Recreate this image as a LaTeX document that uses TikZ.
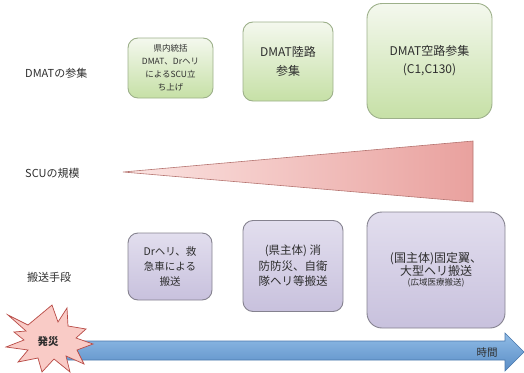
\documentclass[tikz,border=0pt]{standalone}
\usepackage{fontspec}
\setmainfont{Noto Sans CJK JP}
\definecolor{gtop}{HTML}{F4F8EE}
\definecolor{gbot}{HTML}{C6E0A6}
\definecolor{gdraw}{HTML}{9DB08A}
\definecolor{ptop}{HTML}{E2DEEE}
\definecolor{pbot}{HTML}{C8C1DD}
\definecolor{pdraw}{HTML}{85828F}
\definecolor{tleft}{HTML}{FBE4E2}
\definecolor{tright}{HTML}{E9A19E}
\definecolor{tdraw}{HTML}{B57470}
\definecolor{atop}{HTML}{90BCE6}
\definecolor{abot}{HTML}{5A8DC6}
\definecolor{adraw}{HTML}{4A78AC}
\definecolor{sfill}{HTML}{F9CBC6}
\definecolor{sdraw}{HTML}{B84A45}
\definecolor{txt}{HTML}{2E2E2E}
\begin{document}
\begin{tikzpicture}[x=1pt,y=-1pt,
  greenbox/.style={draw=gdraw, line width=0.9pt, rounded corners=10pt, top color=gtop, bottom color=gbot, align=center, text=txt, inner sep=0pt},
  purplebox/.style={draw=pdraw, line width=0.9pt, rounded corners=10pt, top color=ptop, bottom color=pbot, align=center, text=txt, inner sep=0pt},
  rowlabel/.style={anchor=west, text=txt, font=\fontsize{11}{12}\selectfont, inner sep=0pt}]
\useasboundingbox (0,0) rectangle (524,372);
% row labels
\node[rowlabel] (l1) at (25,73) {DMATの参集};
\node[rowlabel] (l2) at (25,173) {SCUの規模};
\node[rowlabel] (l3) at (27,277) {搬送手段};
% green boxes
\node[greenbox, minimum width=85pt, minimum height=60pt, font=\fontsize{8.5}{13}\selectfont] (g1) at (170.5,68)
  {県内統括\\DMAT、Drヘリ\\によるSCU立\\ち上げ};
\node[greenbox, minimum width=90pt, minimum height=79pt, font=\fontsize{12}{19}\selectfont] (g2) at (288,61.5)
  {DMAT陸路\\参集};
\node[greenbox, rounded corners=15pt, minimum width=125pt, minimum height=115pt, font=\fontsize{12}{18}\selectfont] (g3) at (429.5,61)
  {DMAT空路参集\\(C1,C130)};
% triangle
\draw[draw=tdraw, line width=0.6pt, left color=tleft, right color=tright] (123,172) -- (473,141) -- (473,202) -- cycle;
% purple boxes
\node[purplebox, minimum width=84pt, minimum height=67pt, font=\fontsize{10.5}{15}\selectfont] (p1) at (170,266.5)
  {Drヘリ、救\\急車による\\搬送};
\node[purplebox, minimum width=100pt, minimum height=91pt, font=\fontsize{11.5}{15.5}\selectfont] (p2) at (293,266)
  {(県主体) 消\\防防災、自衛\\隊ヘリ等搬送};
\node[purplebox, rounded corners=15pt, minimum width=138pt, minimum height=116pt, align=center] (p3) at (436,270)
  {{\fontsize{12}{17}\selectfont (国主体)固定翼、}\\{\fontsize{12}{17}\selectfont 大型ヘリ搬送}\\[-2pt]{\fontsize{8.5}{10}\selectfont (広域医療搬送)}};
% time arrow
\draw[draw=adraw, line width=0.6pt, top color=atop, bottom color=abot]
  (60,341) -- (505,341) -- (505,333) -- (524,352) -- (505,371) -- (505,360) -- (60,360) -- cycle;
\node[text=txt, font=\fontsize{10.5}{12}\selectfont] (t) at (487,353) {時間};
% starburst
\draw[draw=sdraw, line width=0.7pt, fill=sfill]
  (8,315) -- (28,325) -- (52,305) -- (58,322) -- (67,308) -- (68,326) -- (86,329) -- (76,338)
  -- (93,344) -- (77,350) -- (84,364) -- (66,356) -- (70,372) -- (54,359) -- (42,372) -- (38,358)
  -- (18,362) -- (28,350) -- (6,347) -- (24,340) -- (14,332) -- (26,331) -- cycle;
\node[text=txt, font=\fontsize{10.5}{12}\selectfont\bfseries] (s) at (48,342) {発災};
\end{tikzpicture}
\end{document}
